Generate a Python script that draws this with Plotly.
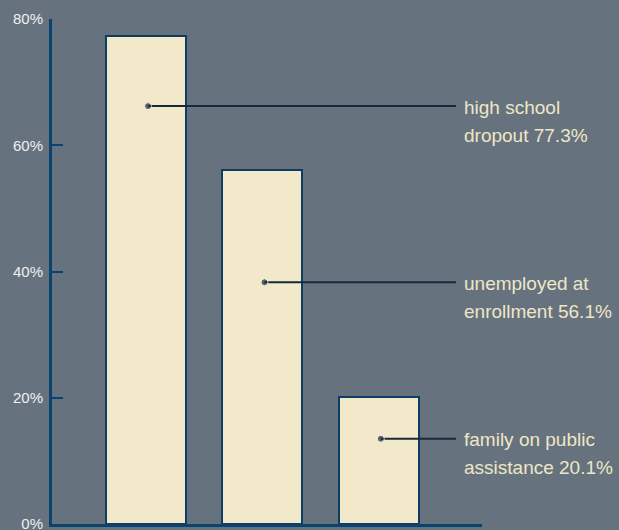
import plotly.graph_objects as go

categories = ["high school dropout", "unemployed at enrollment", "family on public assistance"]
values = [77.3, 56.1, 20.1]
label_lines = [["high school", "dropout 77.3%"],
               ["unemployed at", "enrollment 56.1%"],
               ["family on public", "assistance 20.1%"]]
leader_y = [66.2, 38.3, 13.5]
tick_vals = [0, 20, 40, 60, 80]
tick_text = ["0%", "20%", "40%", "60%", "80%"]

BG = "#66737f"
BAR = "#f2e9cb"
BAR_LINE = "#0e3d63"
AXIS = "#0a4270"
LEADER = "#172838"
TEXT = "#efe6c6"
FONT = "Liberation Sans, Arial, sans-serif"

xs = list(range(len(categories)))

fig = go.Figure()
fig.add_trace(go.Bar(
    x=xs, y=values, width=0.687,
    marker=dict(color=BAR, line=dict(color=BAR_LINE, width=2)),
    hoverinfo="skip", showlegend=False,
))

line_end_x = 2.666
text_x = 2.743
for i, (xv, yv) in enumerate(zip(xs, leader_y)):
    fig.add_trace(go.Scatter(
        x=[xv + 0.02, line_end_x], y=[yv, yv], mode="lines+markers",
        line=dict(color=LEADER, width=2),
        marker=dict(size=[7, 0], color=LEADER),
        hoverinfo="skip", showlegend=False, cliponaxis=False,
    ))
    for j, line in enumerate(label_lines[i]):
        fig.add_annotation(
            x=text_x, y=yv, xref="x", yref="y",
            text=line, showarrow=False,
            xanchor="left", yanchor="middle", align="left",
            xshift=-3, yshift=-1 - 28 * j,
            font=dict(family=FONT, size=19, color=TEXT),
        )

fig.update_layout(
    width=619, height=530,
    margin=dict(l=52, r=137, t=19, b=6, autoexpand=False),
    paper_bgcolor=BG, plot_bgcolor=BG,
    bargap=0,
    xaxis=dict(range=[-0.805, 2.889], showgrid=False, zeroline=False,
               showticklabels=False, ticks="", showline=True,
               linecolor=AXIS, linewidth=3, fixedrange=True,
               automargin=False),
    yaxis=dict(range=[0, 80], tickvals=tick_vals, ticktext=tick_text,
               showgrid=False, zeroline=False, showline=True,
               linecolor=AXIS, linewidth=3, ticks="inside", ticklen=11,
               tickwidth=2, tickcolor=AXIS, ticklabelstandoff=3,
               ticklabeloverflow="allow", automargin=False,
               tickfont=dict(family=FONT, size=15, color="#eef0f2"),
               fixedrange=True),
)

fig.write_html("out.html")
